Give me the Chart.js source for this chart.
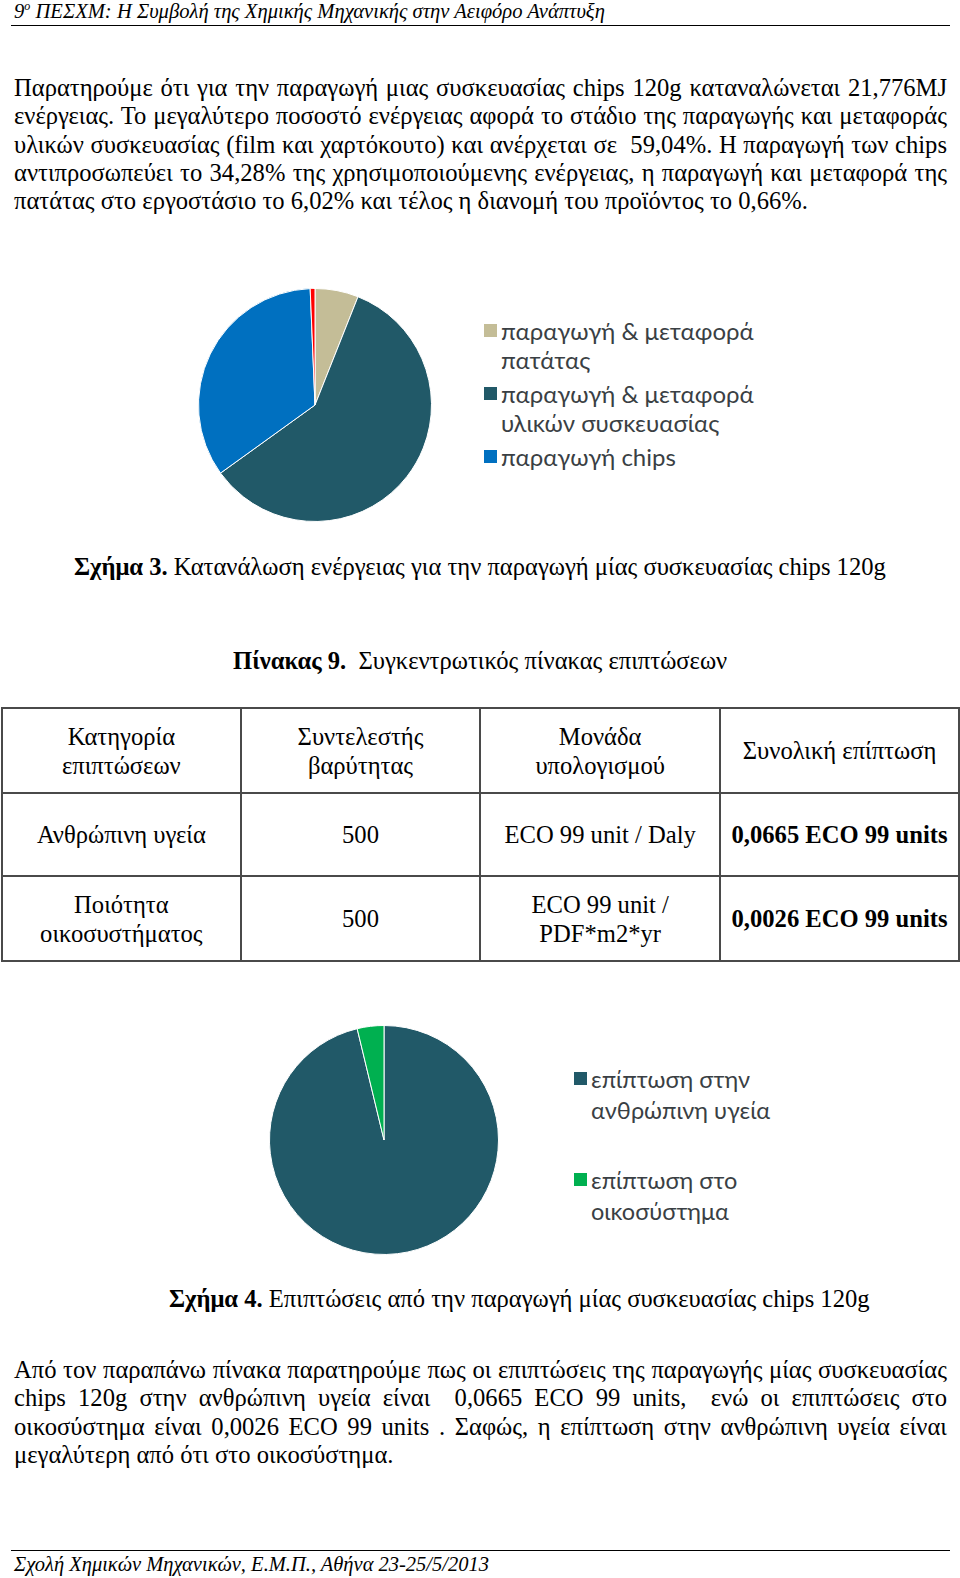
<!DOCTYPE html>
<html lang="el">
<head>
<meta charset="utf-8">
<title>Σχήμα 3 / Σχήμα 4</title>
<script src="https://cdn.jsdelivr.net/npm/chart.js@4.4.1/dist/chart.umd.min.js"></script>
<style>
  html, body { margin: 0; padding: 0; background: #fff; }
  body {
    width: 960px; height: 1578px; position: relative; overflow: hidden;
    font-family: "Liberation Serif", "DejaVu Serif", serif; color: #000;
  }
  .header { position: absolute; left: 14px; top: -5px; font-style: italic; font-size: 20.6px; line-height: 22px; }
  .header sup { font-size: 12px; }
  .rule { position: absolute; left: 11px; width: 939px; border-top: 1px solid #000; }
  .para { position: absolute; left: 14px; width: 933px; font-size: 24.6px; line-height: 28.3px; }
  .para div { text-align: justify; text-align-last: justify; white-space: nowrap; }
  .para div.last { text-align-last: left; }
  .caption { position: absolute; font-size: 24.6px; line-height: 28px; white-space: nowrap; }
  .chartbox { position: absolute; }
  .legend { position: absolute; font-family: Lato, "Open Sans", sans-serif; color: #3a3f44; white-space: nowrap; }
  .legend .item { position: relative; padding-left: 17px; }
  .legend .sw { position: absolute; left: 0; width: 13px; height: 13px; }
  table.impacts {
    position: absolute; left: 1px; top: 707px; border-collapse: collapse;
    font-size: 24.6px; line-height: 29px; table-layout: fixed;
  }
  table.impacts td { border: 2px solid #4a4a4a; text-align: center; vertical-align: middle; padding: 0; white-space: nowrap; }
  table.impacts td.b { font-weight: bold; }
  .footer { position: absolute; left: 14px; top: 1553px; font-style: italic; font-size: 20.5px; line-height: 22px; }
</style>
</head>
<body>

<div class="header">9<sup>ο</sup> ΠΕΣΧΜ: Η Συμβολή της Χημικής Μηχανικής στην Αειφόρο Ανάπτυξη</div>
<div class="rule" style="top:25px"></div>

<div class="para" style="top:74px">
  <div>Παρατηρούμε ότι για την παραγωγή μιας συσκευασίας chips 120g καταναλώνεται 21,776MJ</div>
  <div>ενέργειας. Το μεγαλύτερο ποσοστό ενέργειας αφορά το στάδιο της παραγωγής και μεταφοράς</div>
  <div>υλικών συσκευασίας (film και χαρτόκουτο) και ανέρχεται σε &nbsp;59,04%. Η παραγωγή των chips</div>
  <div>αντιπροσωπεύει το 34,28% της χρησιμοποιούμενης ενέργειας, η παραγωγή και μεταφορά της</div>
  <div class="last">πατάτας στο εργοστάσιο το 6,02% και τέλος η διανομή του προϊόντος το 0,66%.</div>
</div>

<div class="chartbox" style="left:198px; top:288px; width:234px; height:234px;">
  <canvas id="energyChart" width="234" height="234"></canvas>
</div>
<div class="legend" id="energyLegend" style="left:484px; top:316px; line-height:29px; font-size:24px;"></div>

<div class="caption" style="left:74px; top:553px;"><b>Σχήμα 3.</b> Κατανάλωση ενέργειας για την παραγωγή μίας συσκευασίας chips 120g</div>

<div class="caption" style="left:233px; top:647px;"><b>Πίνακας 9.</b> &nbsp;Συγκεντρωτικός πίνακας επιπτώσεων</div>

<table class="impacts">
  <colgroup><col style="width:239px"><col style="width:240px"><col style="width:240px"><col style="width:239px"></colgroup>
  <tr style="height:85px">
    <td>Κατηγορία<br>επιπτώσεων</td>
    <td>Συντελεστής<br>βαρύτητας</td>
    <td>Μονάδα<br>υπολογισμού</td>
    <td>Συνολική επίπτωση</td>
  </tr>
  <tr style="height:83px">
    <td>Ανθρώπινη υγεία</td>
    <td>500</td>
    <td>ECO 99 unit / Daly</td>
    <td class="b" id="impactCell0"></td>
  </tr>
  <tr style="height:85px">
    <td>Ποιότητα<br>οικοσυστήματος</td>
    <td>500</td>
    <td>ECO 99 unit /<br>PDF*m2*yr</td>
    <td class="b" id="impactCell1"></td>
  </tr>
</table>

<div class="chartbox" style="left:269px; top:1025px; width:230px; height:230px;">
  <canvas id="impactChart" width="230" height="230"></canvas>
</div>
<div class="legend" id="impactLegend" style="left:574px; top:1064px; line-height:31px; font-size:23.5px;"></div>

<div class="caption" style="left:169px; top:1285px;"><b>Σχήμα 4.</b> Επιπτώσεις από την παραγωγή μίας συσκευασίας chips 120g</div>

<div class="para" style="top:1356px">
  <div>Από τον παραπάνω πίνακα παρατηρούμε πως οι επιπτώσεις της παραγωγής μίας συσκευασίας</div>
  <div>chips 120g στην ανθρώπινη υγεία είναι &nbsp;0,0665 ECO 99 units, &nbsp;ενώ οι επιπτώσεις στο</div>
  <div>οικοσύστημα είναι 0,0026 ECO 99 units . Σαφώς, η επίπτωση στην ανθρώπινη υγεία είναι</div>
  <div class="last">μεγαλύτερη από ότι στο οικοσύστημα.</div>
</div>

<div class="rule" style="top:1550px"></div>
<div class="footer">Σχολή Χημικών Μηχανικών, Ε.Μ.Π., Αθήνα 23-25/5/2013</div>

<script>
// Σχήμα 3: energy share per stage (%), in drawing order from 12 o'clock
const energyLabels = [
    ['παραγωγή & μεταφορά', 'πατάτας'],
    ['παραγωγή & μεταφορά', 'υλικών συσκευασίας'],
    ['παραγωγή chips'],
    ['διανομή']
];
const energyShares = [6.02, 59.04, 34.28, 0.66];
const energyColors = ['#C4BD97', '#215968', '#0070C0', '#FF0000'];
// only the first three entries are visible in the original legend
const energyLegendShown = 3;

// Σχήμα 4: total impact (ECO 99 units)
const impactLabels = [
    ['επίπτωση στην', 'ανθρώπινη υγεία'],
    ['επίπτωση στο', 'οικοσύστημα']
];
const impactValues = [0.0665, 0.0026];
const impactColors = ['#215968', '#00B050'];

function pieChart(id, labels, values, colors) {
    const ctx = document.getElementById(id).getContext('2d');
    return new Chart(ctx, {
        type: 'pie',
        data: {
            labels: labels,
            datasets: [{
                data: values,
                backgroundColor: colors,
                borderColor: '#ffffff',
                borderWidth: 1
            }]
        },
        options: {
            responsive: false,
            animation: false,
            layout: { padding: 0 },
            plugins: {
                legend: { display: false },
                tooltip: { enabled: true }
            }
        }
    });
}

// HTML legend, multi-line labels like the Office chart
function buildLegend(elId, labels, colors, count, gap) {
    const el = document.getElementById(elId);
    labels.slice(0, count).forEach((lines, i) => {
        const item = document.createElement('div');
        item.className = 'item';
        if (i > 0) item.style.marginTop = gap + 'px';
        const sw = document.createElement('span');
        sw.className = 'sw';
        sw.style.background = colors[i];
        sw.style.top = '8px';
        item.appendChild(sw);
        item.insertAdjacentHTML('beforeend', lines.join('<br>'));
        el.appendChild(item);
    });
}

pieChart('energyChart', energyLabels, energyShares, energyColors);
buildLegend('energyLegend', energyLabels, energyColors, energyLegendShown, 5);

pieChart('impactChart', impactLabels, impactValues, impactColors);
buildLegend('impactLegend', impactLabels, impactColors, impactLabels.length, 39);

// table values come from the same array as the pie
impactValues.forEach((v, i) => {
    document.getElementById('impactCell' + i).textContent =
        v.toFixed(4).replace('.', ',') + ' ECO 99 units';
});
</script>
</body>
</html>
